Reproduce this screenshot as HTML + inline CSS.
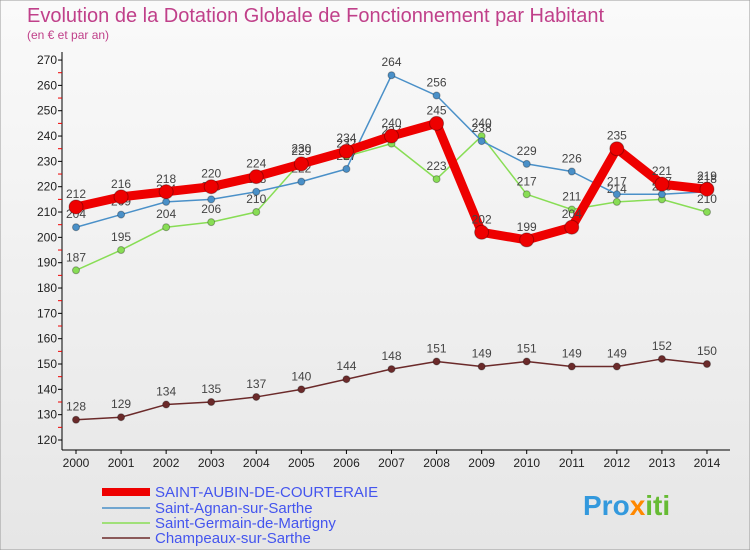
<!DOCTYPE html>
<html><head><meta charset="utf-8"><style>
body{margin:0;width:750px;height:550px;overflow:hidden;font-family:"Liberation Sans",sans-serif}
svg text{font-family:"Liberation Sans",sans-serif}
</style></head><body>
<svg id="c" width="750" height="550">
<defs><linearGradient id="bg" x1="0" y1="0" x2="0" y2="1"><stop offset="0" stop-color="#fafafa"/><stop offset="1" stop-color="#e6e6e6"/></linearGradient></defs>
<rect width="750" height="550" fill="url(#bg)" stroke="#999"/>
<text x="27" y="22" font-size="20" fill="#c0408a">Evolution de la Dotation Globale de Fonctionnement par Habitant</text>
<text x="27" y="39" font-size="12" fill="#c0408a">(en € et par an)</text>
<g id="axes"></g><g id="series"></g>
<g>
<line x1="102" y1="492" x2="150" y2="492" stroke="#e00" stroke-width="8"/>
<text x="155" y="497" font-size="15" fill="#4455ee">SAINT-AUBIN-DE-COURTERAIE</text>
<line x1="102" y1="508" x2="150" y2="508" stroke="#4a90c8" stroke-width="1.5"/>
<text x="155" y="513" font-size="15" fill="#4455ee">Saint-Agnan-sur-Sarthe</text>
<line x1="102" y1="523" x2="150" y2="523" stroke="#88dd55" stroke-width="1.5"/>
<text x="155" y="528" font-size="15" fill="#4455ee">Saint-Germain-de-Martigny</text>
<line x1="102" y1="538" x2="150" y2="538" stroke="#6b2a2a" stroke-width="1.5"/>
<text x="155" y="543" font-size="15" fill="#4455ee">Champeaux-sur-Sarthe</text>
</g>
<text x="583" y="515" font-size="28" font-weight="bold" fill="#3399dd">Pro<tspan fill="#ff8800">x</tspan><tspan fill="#66bb33">iti</tspan></text>
</svg>
<script>
const years=[2000,2001,2002,2003,2004,2005,2006,2007,2008,2009,2010,2011,2012,2013,2014];
const aubin=[212,216,218,220,224,229,234,240,245,202,199,204,235,221,219];
const agnan=[204,209,214,215,218,222,227,264,256,238,229,226,217,217,218];
const germain=[187,195,204,206,210,230,232,237,223,240,217,211,214,215,210];
const champeaux=[128,129,134,135,137,140,144,148,151,149,151,149,149,152,150];
const yTicks=[120,130,140,150,160,170,180,190,200,210,220,230,240,250,260,270];
const NS="http://www.w3.org/2000/svg";
const X=i=>76+i*45.07, Y=v=>440-(v-120)*2.533;
function mk(p,t,a){const e=document.createElementNS(NS,t);for(const k in a)e.setAttribute(k,a[k]);p.appendChild(e);return e;}
const ax=document.getElementById('axes'), sg=document.getElementById('series');
const yl=mk(ax,'line',{x1:62,y1:52,x2:62,y2:450,stroke:'#000'});


const xl=mk(ax,'line',{x1:62,y1:450,x2:730,y2:450,stroke:'#000'});


yTicks.forEach(v=>{
 mk(ax,'line',{x1:58,y1:Y(v),x2:62,y2:Y(v),stroke:'#000'});
 if(v<270)mk(ax,'line',{x1:58,y1:Y(v+5),x2:62,y2:Y(v+5),stroke:'#e00'});
 const t=mk(ax,'text',{x:57,y:Y(v)+4,'font-size':12,'text-anchor':'end',fill:'#222'});
 t.textContent=v;
 
 
});
years.forEach((y,i)=>{
 mk(ax,'line',{x1:X(i),y1:450,x2:X(i),y2:454,stroke:'#000'});
 const t=mk(ax,'text',{x:X(i),y:467,'font-size':12,'text-anchor':'middle',fill:'#222'});
 t.textContent=y;
 
 
});
function series(d,col,w,r,name){
 const g=mk(sg,'g',{});
 
 
 mk(g,'polyline',{points:d.map((v,i)=>X(i)+','+Y(v)).join(' '),fill:'none',stroke:col,'stroke-width':w,'stroke-linejoin':'round'});
 d.forEach((v,i)=>{
  const c=mk(g,'circle',{cx:X(i),cy:Y(v),r:r,fill:col,stroke:'rgba(0,0,0,0.3)'});
  
  
  const t=mk(g,'text',{x:X(i),y:Y(v)-9,'font-size':12,'text-anchor':'middle',fill:'#444'});
  t.textContent=v;
  
  
 });
}
series(champeaux,'#6b2a2a',1.5,3.5,'champeaux-series');
series(germain,'#88dd55',1.5,3.5,'saint-germain-series');
series(agnan,'#4a90c8',1.5,3.5,'saint-agnan-series');
series(aubin,'#e00',9,7,'saint-aubin-series');
</script>
</body></html>
